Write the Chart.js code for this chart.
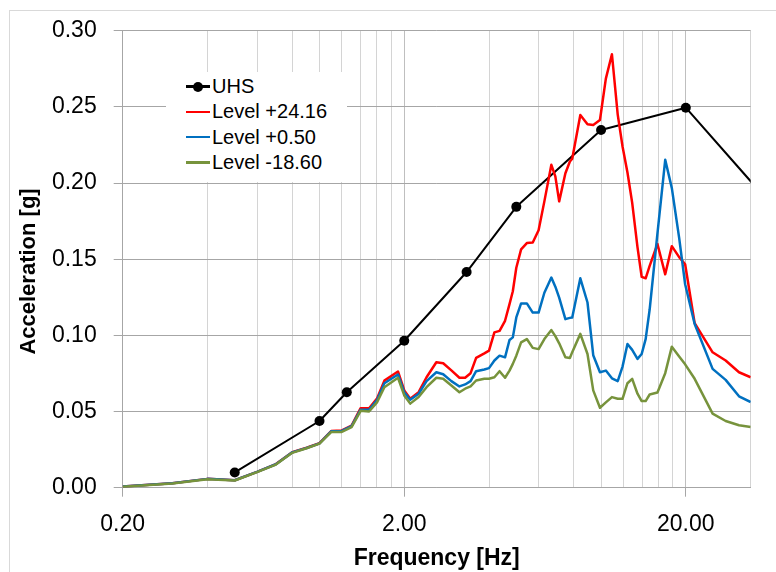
<!DOCTYPE html>
<html>
<head>
<meta charset="utf-8">
<script src="https://cdn.jsdelivr.net/npm/chart.js@4.4.1/dist/chart.umd.min.js"></script>
<style>
    html, body { margin: 0; padding: 0; background: #fff; overflow: hidden; }
    #frame { position: absolute; left: 9px; top: 10px; width: 900px; height: 700px; border: 1px solid #d9d9d9; }
    .chart-container { position: absolute; left: 0; top: 0; width: 776px; height: 572px; }
    #legend {
        position: absolute; left: 166px; top: 72px; width: 181px; height: 110px;
        background: #fff; box-sizing: border-box; padding-top: 2px;
        font-family: "Liberation Sans", Arial, sans-serif; font-size: 20px; color: #000;
    }
    .item { position: relative; height: 25.3px; display: flex; align-items: center; padding-left: 20px; }
    .swatch { position: relative; width: 24px; height: 2.5px; margin-right: 2px; }
    .dot { position: absolute; left: 7px; top: -3.75px; width: 10px; height: 10px; border-radius: 50%; }
</style>
</head>
<body>
<div id="frame"></div>
<div class="chart-container"><canvas id="myChart"></canvas></div>
<div id="legend"></div>
<script>
// Frequencies [Hz] shared by the three floor level spectra
const freqHz = [0.2, 0.3, 0.4, 0.5, 0.6, 0.7, 0.8, 0.9, 1.0, 1.1, 1.2, 1.3, 1.4, 1.5, 1.6, 1.7, 1.9, 2.0, 2.1, 2.25,
    2.4, 2.6, 2.75, 2.94, 3.14, 3.29, 3.44, 3.6, 3.85, 4.0, 4.18, 4.36, 4.56, 4.73, 4.86, 5.0, 5.2, 5.45, 5.72, 6.0,
    6.29, 6.66, 6.88, 7.1, 7.47, 7.75, 7.9, 8.44, 8.95, 9.38, 9.91, 10.4, 10.93, 11.46, 11.92, 12.41, 12.9, 13.47, 13.94, 14.4,
    14.88, 15.86, 16.9, 17.84, 18.94, 19.89, 21.5, 24.9, 27.7, 30.9, 34];

// Acceleration [g]
const levelP2416 = [0.0008, 0.0029, 0.0058, 0.0049, 0.0104, 0.0155, 0.0233, 0.0262, 0.0292, 0.0372, 0.0376, 0.0408, 0.0522, 0.0522, 0.0585, 0.0703, 0.0763, 0.0639, 0.0584, 0.0627,
    0.0725, 0.0824, 0.0817, 0.0770, 0.0722, 0.0722, 0.0752, 0.0852, 0.0882, 0.0900, 0.1020, 0.1030, 0.1096, 0.1205, 0.1290, 0.1444, 0.1565, 0.1606, 0.1610, 0.1690,
    0.1880, 0.2120, 0.2044, 0.1880, 0.2065, 0.2142, 0.2160, 0.2447, 0.2386, 0.2382, 0.2414, 0.2686, 0.2846, 0.2450, 0.2240, 0.2070, 0.1870, 0.1580, 0.1384, 0.1375,
    0.1456, 0.1600, 0.1401, 0.1586, 0.1514, 0.1467, 0.1080, 0.0889, 0.0835, 0.0758, 0.0725];

const levelP050 = [0.0008, 0.0029, 0.0058, 0.0049, 0.0104, 0.0154, 0.0232, 0.0261, 0.0291, 0.0370, 0.0373, 0.0404, 0.0512, 0.0512, 0.0575, 0.0686, 0.0743, 0.0627, 0.0578, 0.0617,
    0.0700, 0.0758, 0.0745, 0.0700, 0.0665, 0.0678, 0.0700, 0.0765, 0.0776, 0.0785, 0.0835, 0.0867, 0.0856, 0.0970, 0.0987, 0.1118, 0.1210, 0.1210, 0.1150, 0.1150,
    0.1280, 0.1380, 0.1320, 0.1248, 0.1107, 0.1115, 0.1118, 0.1375, 0.1216, 0.0870, 0.0758, 0.0769, 0.0718, 0.0700, 0.0795, 0.0944, 0.0905, 0.0846, 0.0878, 0.0976,
    0.1170, 0.1670, 0.2153, 0.1967, 0.1640, 0.1336, 0.1075, 0.0780, 0.0708, 0.0600, 0.0562];

const levelM1860 = [0.0007, 0.0028, 0.0056, 0.0047, 0.0102, 0.0152, 0.0229, 0.0259, 0.0289, 0.0365, 0.0366, 0.0398, 0.0505, 0.0500, 0.0560, 0.0660, 0.0722, 0.0606, 0.0552, 0.0595,
    0.0660, 0.0722, 0.0715, 0.0671, 0.0627, 0.0650, 0.0665, 0.0704, 0.0715, 0.0715, 0.0725, 0.0765, 0.0722, 0.0769, 0.0813, 0.0867, 0.0954, 0.0976, 0.0918, 0.0910,
    0.0976, 0.1035, 0.0995, 0.0948, 0.0856, 0.0852, 0.0890, 0.1010, 0.0878, 0.0639, 0.0525, 0.0560, 0.0595, 0.0584, 0.0584, 0.0686, 0.0715, 0.0617, 0.0569, 0.0569,
    0.0612, 0.0625, 0.0752, 0.0926, 0.0862, 0.0810, 0.0715, 0.0486, 0.0438, 0.0410, 0.0399];

// Uniform hazard spectrum (last point lies past the axis end)
const uhsFreq = [0.5, 1.0, 1.25, 2.0, 3.33, 5.0, 10.0, 20.0, 100.0];
const uhsAcc = [0.0100, 0.0438, 0.0627, 0.0965, 0.1416, 0.1844, 0.2349, 0.2495, 0.103];

// Axis ticks
const xMajorTicks = [0.2, 2, 20];
const xGridLines = [0.2, 0.4, 0.6, 0.8, 1.0, 1.2, 1.4, 1.6, 1.8,
    2, 4, 6, 8, 10, 12, 14, 16, 18, 20, 34];
const xMin = 0.2, xMax = 34;
const yMin = 0, yMax = 0.3, yStep = 0.05;

function toPoints(xs, ys) {
    return xs.map((x, i) => ({ x: x, y: ys[i] }));
}

function createChart() {
    Chart.defaults.font.family = '"Liberation Sans", Arial, sans-serif';
    Chart.defaults.color = '#000';
    const ctx = document.getElementById('myChart').getContext('2d');

    const chart = new Chart(ctx, {
        type: 'line',
        data: {
            datasets: [
                {
                    label: 'UHS',
                    data: toPoints(uhsFreq, uhsAcc),
                    borderColor: '#000000',
                    backgroundColor: '#000000',
                    borderWidth: 2,
                    pointRadius: 5,
                    pointBorderWidth: 0,
                    clip: { left: 6, top: 6, right: 0, bottom: 6 },
                    order: 3
                },
                {
                    label: 'Level +24.16',
                    data: toPoints(freqHz, levelP2416),
                    borderColor: '#ff0000',
                    backgroundColor: '#ff0000',
                    borderWidth: 2.5,
                    pointRadius: 0,
                    order: 2
                },
                {
                    label: 'Level +0.50',
                    data: toPoints(freqHz, levelP050),
                    borderColor: '#0070c0',
                    backgroundColor: '#0070c0',
                    borderWidth: 2.5,
                    pointRadius: 0,
                    order: 1
                },
                {
                    label: 'Level -18.60',
                    data: toPoints(freqHz, levelM1860),
                    borderColor: '#77933c',
                    backgroundColor: '#77933c',
                    borderWidth: 2.5,
                    pointRadius: 0,
                    order: 0
                }
            ]
        },
        options: {
            responsive: true,
            maintainAspectRatio: false,
            animation: false,
            borderJoinStyle: 'round',
            layout: { padding: { left: 0, top: 28.7, right: 25.3, bottom: 0 } },
            plugins: {
                legend: { display: false },
                tooltip: { enabled: false }
            },
            scales: {
                x: {
                    type: 'logarithmic',
                    min: xMin,
                    max: xMax,
                    afterBuildTicks: axis => {
                        axis.ticks = xGridLines.map(v => ({ value: v }));
                    },
                    afterFit: axis => { axis.height = 84.3; },
                    ticks: {
                        autoSkip: false,
                        maxRotation: 0,
                        padding: 14,
                        font: { size: 23 },
                        color: '#000',
                        callback: v => xMajorTicks.includes(v) ? v.toFixed(2) : ''
                    },
                    grid: {
                        color: c => (c.tick && xMajorTicks.includes(c.tick.value)) ? '#bfbfbf' : '#d4d4d4',
                        tickColor: c => (c.tick && xMajorTicks.includes(c.tick.value)) ? '#a6a6a6' : 'rgba(0,0,0,0)',
                        tickLength: 9
                    },
                    border: { color: '#a6a6a6' },
                    title: {
                        display: true,
                        text: 'Frequency [Hz]',
                        font: { size: 23, weight: 'bold' },
                        color: '#000',
                        padding: { top: 0, bottom: 0 }
                    }
                },
                y: {
                    min: yMin,
                    max: yMax,
                    afterFit: axis => { axis.width = 122.7; },
                    ticks: {
                        stepSize: yStep,
                        padding: 17,
                        font: { size: 23 },
                        color: '#000',
                        callback: v => v.toFixed(2)
                    },
                    grid: { color: '#a6a6a6', tickLength: 9 },
                    border: { color: '#a6a6a6' },
                    title: {
                        display: true,
                        // trailing spaces push the title a little down, as in the original
                        text: 'Acceleration [g]    ',
                        font: { size: 22, weight: 'bold' },
                        color: '#000',
                        padding: { top: 16, bottom: 0 }
                    }
                }
            }
        }
    });

    return chart;
}

// Legend drawn as html inside the plot, one row per dataset
function buildLegend(chart) {
    const box = document.getElementById('legend');
    chart.data.datasets.forEach(ds => {
        const row = document.createElement('div');
        row.className = 'item';
        const sw = document.createElement('span');
        sw.className = 'swatch';
        sw.style.background = ds.borderColor;
        if (ds.pointRadius > 0) {
            const dot = document.createElement('span');
            dot.className = 'dot';
            dot.style.background = ds.backgroundColor;
            sw.appendChild(dot);
        }
        row.appendChild(sw);
        row.appendChild(document.createTextNode(ds.label));
        box.appendChild(row);
    });
}

document.addEventListener('DOMContentLoaded', () => {
    const chart = createChart();
    buildLegend(chart);
});
</script>
</body>
</html>
